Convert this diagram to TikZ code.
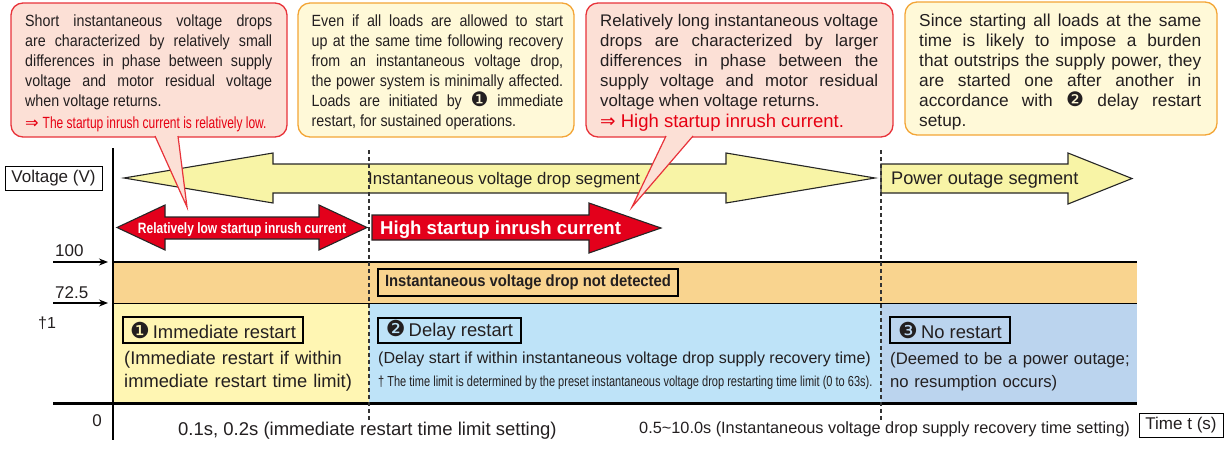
\documentclass[tikz,border=0pt]{standalone}
\usepackage{fontspec}
\setmainfont{Liberation Sans}
\newfontfamily\cnda{Liberation Sans}[FakeStretch=0.88]
\newfontfamily\cndb{Liberation Sans}[FakeStretch=0.74]
\newfontfamily\cndc{Liberation Sans}[FakeStretch=0.76]
\newfontfamily\cndd{Liberation Sans}[FakeStretch=0.80]
\newfontfamily\cnde{Liberation Sans}[FakeStretch=0.91]
\newfontfamily\djv{DejaVu Sans}
\setlength{\parindent}{0pt}
\newcommand\fsz[2]{\fontsize{#1}{#2}\selectfont}
\newcommand\cnum[1]{{\djv\fontsize{20}{20}\selectfont#1}}
\newcommand\cnumbig[1]{{\djv\fontsize{22}{20}\selectfont#1}}
\definecolor{txt}{HTML}{231F20}
\definecolor{pinkfill}{HTML}{FCE0D6}
\definecolor{redline}{HTML}{E8333A}
\definecolor{creamfill}{HTML}{FFF9D8}
\definecolor{orangeline}{HTML}{F3A536}
\definecolor{arrowyellow}{HTML}{F8F4A6}
\definecolor{arrowred}{HTML}{E3001B}
\definecolor{redtext}{HTML}{E60012}
\definecolor{bandorange}{HTML}{F9D48F}
\definecolor{bandyellow}{HTML}{FFF6B3}
\definecolor{bandblue}{HTML}{BEE3F8}
\definecolor{bandbluetwo}{HTML}{BBD4EE}
\usetikzlibrary{arrows.meta}
\begin{document}
\begin{tikzpicture}[x=1pt,y=-1pt,
  cboxred/.style={draw=redline,fill=pinkfill,rounded corners=12pt,line width=1.3pt,inner sep=0pt},
  cboxora/.style={draw=orangeline,fill=creamfill,rounded corners=12pt,line width=1.3pt,inner sep=0pt},
  ctext/.style={anchor=base west,inner sep=0pt,align=justify,text=txt},
  lbl/.style={inner sep=0pt,text=txt},
  framed/.style={draw=black,line width=1.1pt,inner sep=0pt,text=txt},
  bigarrow/.style={draw=black!85,line width=1.1pt,line join=miter},
  dashline/.style={draw=black!80,line width=1.1pt,dash pattern=on 4pt off 3pt},
  axisline/.style={draw=black,line width=2.4pt},
  levelarrow/.style={draw=black,line width=1.2pt,-{Stealth[length=9pt,width=7pt]}}
]
\useasboundingbox (0,0) rectangle (1226,448);

% ---- bands
\fill[bandorange] (113,262) rectangle (1137,303);
\fill[bandyellow] (113,303) rectangle (369,403);
\fill[bandblue] (369,303) rectangle (881,403);
\fill[bandbluetwo] (881,303) rectangle (1137,403);
\coordinate (bt1) at (113,262); \coordinate (bt2) at (1137,262);
\coordinate (bm1) at (113,303); \coordinate (bm2) at (1137,303);
\draw[line width=1.2pt] (bt1) -- (bt2);
\draw[line width=1pt] (bm1) -- (bm2);

% ---- axes
\coordinate (ax0) at (113,148); \coordinate (ax1) at (113,440);
\coordinate (bx0) at (53,403); \coordinate (bx1) at (1137,403);
\draw[axisline] (ax0) -- (ax1);
\draw[line width=3pt] (bx0) -- (bx1);
\coordinate (l100a) at (53,262); \coordinate (l100b) at (108,262);
\coordinate (l725a) at (53,303); \coordinate (l725b) at (108,303);
\draw[levelarrow] (l100a) -- (l100b);
\draw[levelarrow] (l725a) -- (l725b);

% ---- big arrows
\draw[bigarrow,fill=arrowyellow] (124,178) -- (273,153) -- (273,164) -- (726,164) -- (726,153) -- (875,178) -- (726,203) -- (726,193) -- (273,193) -- (273,203) -- cycle;
\draw[bigarrow,fill=arrowyellow] (881,164) -- (1068,164) -- (1068,153) -- (1132,178.5) -- (1068,204) -- (1068,193) -- (881,193) -- cycle;
\draw[bigarrow,fill=arrowred] (117,227.5) -- (165,205) -- (165,217) -- (319,217) -- (319,205) -- (367,227.5) -- (319,250) -- (319,239) -- (165,239) -- (165,250) -- cycle;
\draw[bigarrow,fill=arrowred] (372,215) -- (589,215) -- (589,203) -- (661,228) -- (589,253) -- (589,240) -- (372,240) -- cycle;

\node[lbl,anchor=base west,font=\fsz{16.8}{20}] (segA) at (368,184) {Instantaneous voltage drop segment};
\node[lbl,anchor=base west,font=\fsz{18.2}{20}] (segB) at (891,184.5) {Power outage segment};
\node[inner sep=0pt,anchor=base,text=white,font=\cndd\bfseries\fsz{15}{18}] (lowtxt) at (242,233) {Relatively low startup inrush current};
\node[inner sep=0pt,anchor=base west,text=white,font=\bfseries\fsz{18.6}{20}] (hightxt) at (380,234.2) {High startup inrush current};

% ---- dashed separators
\coordinate (d1a) at (369,150); \coordinate (d1b) at (369,422);
\coordinate (d2a) at (881,150); \coordinate (d2b) at (881,422);
\draw[dashline] (d1a) -- (d1b);
\draw[dashline] (d2a) -- (d2b);

% ---- band texts
\node[framed,fill=bandorange,minimum width=300pt,minimum height=27pt,font=\cnde\bfseries\fsz{16.3}{18}] (notdet) at (528,282.5) {Instantaneous voltage drop not detected};
\node[framed,minimum width=180pt,minimum height=26pt,font=\fsz{18.4}{20}] (imm) at (213,330) {\cnumbig{❶}\,Immediate restart};
\node[framed,minimum width=143pt,minimum height=25pt,font=\fsz{18.4}{20}] (dly) at (449.5,330.5) {\cnumbig{❷}\,Delay restart};
\node[framed,minimum width=120pt,minimum height=26pt,font=\fsz{18.4}{20}] (nor) at (950,330) {\cnumbig{❸}\,No restart};
\node[lbl,anchor=base west,text width=240pt,align=left,font=\fsz{18.3}{23}] (immtxt) at (124,364) {(Immediate restart if within\\immediate restart time limit)};
\node[lbl,anchor=base west,font=\fsz{16}{20}] (dlytxt) at (378,363) {(Delay start if within instantaneous voltage drop supply recovery time)};
\node[lbl,anchor=base west,font=\cndc\fsz{14.5}{18}] (dagtxt) at (378,386) {† The time limit is determined by the preset instantaneous voltage drop restarting time limit (0 to 63s).};
\node[lbl,anchor=base west,text width=250pt,align=left,font=\fsz{16.7}{23}] (nortxt) at (890,364) {(Deemed to be a power outage;\\no resumption occurs)};

% ---- axis labels
\node[framed,fill=white,line width=1pt,minimum width=97pt,minimum height=24pt,font=\fsz{17}{20}] (vlab) at (53.5,178) {Voltage (V)};
\node[framed,fill=white,line width=1pt,minimum width=84pt,minimum height=24pt,font=\fsz{17}{20}] (tlab) at (1181,425) {Time t (s)};
\node[lbl,anchor=base west,font=\fsz{17}{20}] (v100) at (55,256) {100};
\node[lbl,anchor=base west,font=\fsz{17}{20}] (v725) at (55,298) {72.5};
\node[lbl,anchor=base west,font=\fsz{16}{20}] (dag1) at (38,328) {†1};
\node[lbl,anchor=base,font=\fsz{17}{20}] (zero) at (97,426) {0};
\node[lbl,anchor=base west,font=\fsz{18.5}{20}] (t1) at (178,435) {0.1s, 0.2s (immediate restart time limit setting)};
\node[lbl,anchor=base west,font=\fsz{16.3}{20}] (t2) at (639,433) {0.5\textasciitilde10.0s (Instantaneous voltage drop supply recovery time setting)};

% ---- callouts
\node[cboxred,minimum width=276pt,minimum height=134pt] (c1box) at (149,70) {};
\node[cboxora,minimum width=276pt,minimum height=134pt] (c2box) at (436,70) {};
\node[cboxred,minimum width=307pt,minimum height=134pt] (c3box) at (739.5,70) {};
\node[cboxora,minimum width=312pt,minimum height=133pt] (c4box) at (1061,68.5) {};

\coordinate (c1a) at (155,136); \coordinate (c1b) at (178,136); \coordinate (tip1) at (187,207);
\coordinate (c3a) at (666,136); \coordinate (c3b) at (693,136); \coordinate (tip3) at (632,207);
\fill[pinkfill] (c1a) -- (tip1) -- (c1b) -- cycle;
\draw[redline,line width=1.2pt,line join=miter] (c1a) -- (tip1) -- (c1b);
\fill[pinkfill] (c3a) -- (tip3) -- (c3b) -- cycle;
\draw[redline,line width=1.2pt,line join=miter] (c3a) -- (tip3) -- (c3b);

\node[ctext,text width=247pt,font=\cnda\fsz{16.2}{20}] (c1) at (25,26.7) {Short instantaneous voltage drops\linebreak are characterized by relatively small\linebreak differences in phase between supply\linebreak voltage and motor residual voltage\linebreak when voltage returns.\\[1.3pt]{\color{redtext}{\djv ⇒}\ {\cndb The startup inrush current is relatively low.}}};
\node[ctext,text width=251.5pt,font=\cnda\fsz{16.2}{20}] (c2) at (311.5,26.7) {Even if all loads are allowed to start\linebreak up at the same time following recovery\linebreak from an instantaneous voltage drop,\linebreak the power system is minimally affected.\linebreak Loads are initiated by \cnum{❶} immediate\linebreak restart, for sustained operations.};
\node[ctext,text width=278pt,font=\fsz{16.8}{20}] (c3) at (600,26) {Relatively long instantaneous voltage\linebreak drops are characterized by larger\linebreak differences in phase between the\linebreak supply voltage and motor residual\linebreak voltage when voltage returns.\\[1.5pt]{\color{redtext}\fsz{18.5}{20}{\djv ⇒} High startup inrush current.}};
\node[ctext,text width=282pt,font=\fsz{17.3}{20}] (c4) at (919,26) {Since starting all loads at the same\linebreak time is likely to impose a burden\linebreak that outstrips the supply power, they\linebreak are started one after another in\linebreak accordance with \cnum{❷} delay restart\linebreak setup.};
\end{tikzpicture}
\end{document}
